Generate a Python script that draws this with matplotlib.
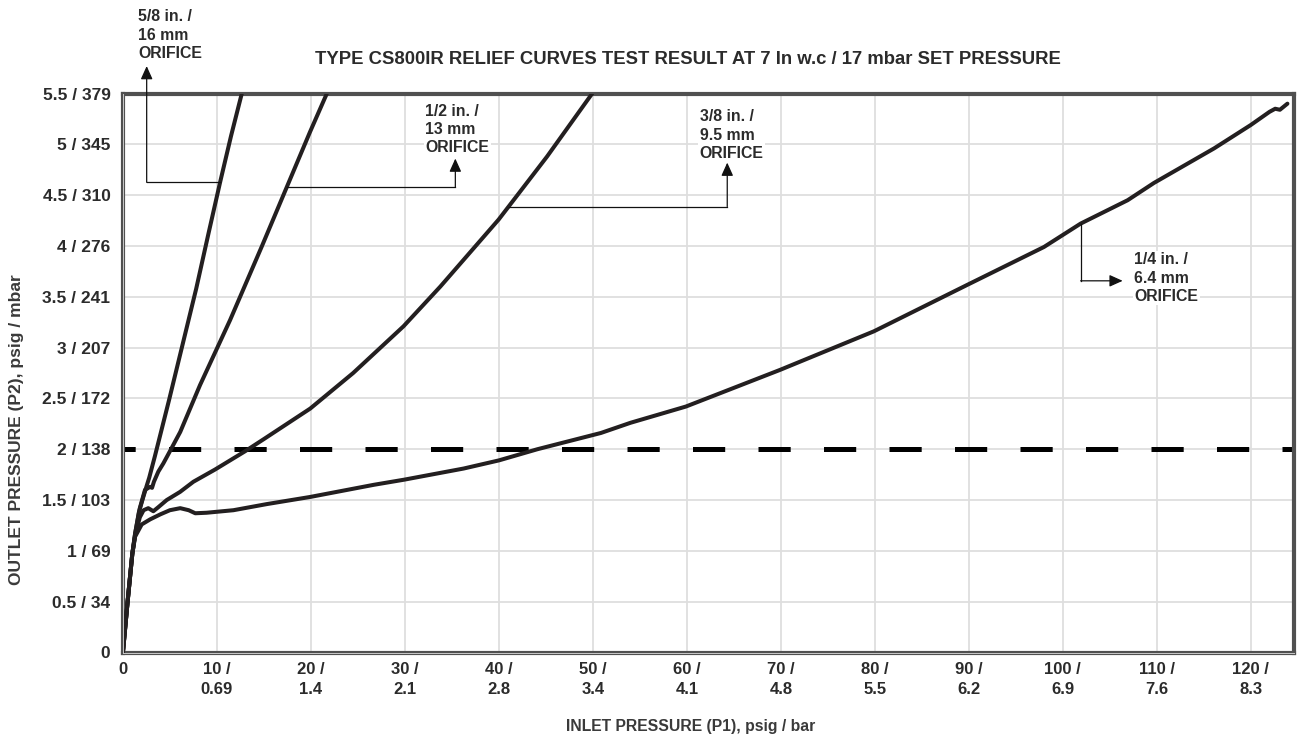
import numpy as np
import matplotlib
matplotlib.use("Agg")
import matplotlib.pyplot as plt

plt.rcParams['font.family'] = ['Liberation Sans', 'DejaVu Sans']
plt.rcParams['font.weight'] = 'bold'

# --- data (x = inlet psig, y = outlet psig) ---
x_58 = [0, 0.5, 1.0, 1.3, 1.7, 2.17, 2.53, 2.8, 3.4, 4.9, 6.35, 7.8, 9.1, 10.35, 11.5, 12.65]
y_58 = [0, 0.50, 0.97, 1.17, 1.38, 1.53, 1.64, 1.72, 1.93, 2.48, 3.03, 3.58, 4.12, 4.63, 5.08, 5.50]

x_12 = [0, 0.5, 1.0, 1.3, 1.8, 2.35, 2.9, 3.1, 3.3, 3.77, 4.3, 5.0, 6.1, 8.2, 11.4, 14.8, 17.44, 19.9, 21.7]
y_12 = [0, 0.50, 0.97, 1.17, 1.42, 1.60, 1.63, 1.62, 1.68, 1.78, 1.86, 1.98, 2.17, 2.63, 3.27, 4.00, 4.58, 5.12, 5.50]

x_38 = [0, 0.5, 1.0, 1.3, 1.8, 2.2, 2.7, 3.24, 3.77, 4.66, 6.08, 7.5, 9.8, 11.4, 13.0, 15.0, 19.93, 24.5,
        29.86, 33.77, 39.98, 45.13, 49.93]
y_38 = [0, 0.50, 0.97, 1.15, 1.33, 1.40, 1.42, 1.39, 1.43, 1.50, 1.58, 1.68, 1.80, 1.89, 1.98, 2.10, 2.40, 2.75,
        3.21, 3.60, 4.26, 4.88, 5.50]

x_14 = [0, 0.5, 1.0, 1.3, 2.0, 2.9, 4.0, 5.0, 6.1, 7.0, 7.7, 8.9, 11.76, 15.3, 19.9, 26.7, 29.9, 36.25, 40.0,
        44.1, 50.86, 54.0, 59.9, 69.9, 79.9, 89.9, 98.0, 101.9, 106.9, 109.7, 116.1, 120.0, 122.0, 122.6,
        123.1, 123.9]
y_14 = [0, 0.50, 0.97, 1.14, 1.26, 1.31, 1.36, 1.40, 1.42, 1.40, 1.37, 1.375, 1.40, 1.46, 1.53, 1.65, 1.70,
        1.81, 1.89, 2.00, 2.16, 2.26, 2.42, 2.78, 3.16, 3.62, 3.99, 4.22, 4.45, 4.62, 4.96, 5.19, 5.32, 5.35,
        5.34, 5.40]

set_pressure = 2.0

x_ticks = np.arange(0, 121, 10)
x_labels = ["0", "10 /\n0.69", "20 /\n1.4", "30 /\n2.1", "40 /\n2.8", "50 /\n3.4", "60 /\n4.1",
            "70 /\n4.8", "80 /\n5.5", "90 /\n6.2", "100 /\n6.9", "110 /\n7.6", "120 /\n8.3"]
y_ticks = np.arange(0, 5.51, 0.5)
y_labels = ["0", "0.5 / 34", "1 / 69", "1.5 / 103", "2 / 138", "2.5 / 172", "3 / 207", "3.5 / 241",
            "4 / 276", "4.5 / 310", "5 / 345", "5.5 / 379"]

txt_c = '#2b2b2b'
W, H = 1299, 740
fig = plt.figure(figsize=(W / 100, H / 100), dpi=100)
ax = fig.add_axes([122.9 / W, 1 - 652.5 / H, (1294 - 122.9) / W, (652.5 - 93.5) / H])

ax.set_xlim(0, 124.6)
ax.set_ylim(0, 5.5)
ax.set_xticks(x_ticks)
ax.set_xticklabels(x_labels, fontsize=12, fontweight='bold', color=txt_c, linespacing=1.4)
ax.set_yticks(y_ticks)
ax.set_yticklabels(y_labels, fontsize=12.5, fontweight='bold', color=txt_c)
ax.tick_params(axis='both', length=0)
ax.tick_params(axis='x', pad=7)
ax.tick_params(axis='y', pad=9)
ax.grid(True, color='#dedede', lw=1.3, zorder=0)
ax.set_axisbelow(True)

for s in ax.spines.values():
    s.set_color('#505050')
    s.set_linewidth(3)
# light inner line for the double border look on left / bottom
ax.plot([0, 0], [0, 1], transform=ax.transAxes, color='#c8c8c8', lw=0.7, clip_on=False, zorder=6)
ax.plot([0, 1], [0, 0], transform=ax.transAxes, color='#c8c8c8', lw=0.7, clip_on=False, zorder=6)

# set pressure line
ax.axhline(set_pressure, color='black', lw=3.6, zorder=2, linestyle=(4.0, (6.44, 6.66)),
           dash_capstyle='butt')

curve_c = '#231f20'
for xs, ys in [(x_58, y_58), (x_12, y_12), (x_38, y_38), (x_14, y_14)]:
    ax.plot(xs, ys, color=curve_c, lw=2.9, solid_joinstyle='round', solid_capstyle='round', zorder=3)

fs_ann = 11.4
arrow_kw = dict(arrowstyle='-|>,head_length=0.4,head_width=0.18', color='#111111', lw=0.9,
                shrinkA=0, shrinkB=0, mutation_scale=20)


def leader(xs, ys, x_on, pts, tip):
    # pts: corner points after the anchor on the curve; tip: arrow end
    y_on = np.interp(x_on, xs, ys)
    px = [x_on] + [p[0] for p in pts]
    py = [y_on] + [p[1] for p in pts]
    ax.plot(px, py, color='#111111', lw=0.9, clip_on=False, zorder=4)
    ax.annotate('', xy=tip, xytext=pts[-1], arrowprops=arrow_kw, annotation_clip=False, zorder=4)
    return y_on


# 5/8 in
leader(x_58, y_58, 10.34, [(2.53, np.interp(10.34, x_58, y_58))], (2.53, 5.77))
ax.text(1.6, 5.82, "5/8 in. /\n16 mm\nORIFICE", fontsize=fs_ann, fontweight='bold', ha='left', va='bottom',
        linespacing=1.28, color=txt_c, clip_on=False)

# 1/2 in
y_b = np.interp(17.44, x_12, y_12)
leader(x_12, y_12, 17.44, [(35.37, y_b)], (35.37, 4.86))
ax.text(32.17, 4.89, "1/2 in. /\n13 mm\nORIFICE", fontsize=fs_ann, fontweight='bold', ha='left', va='bottom',
        linespacing=1.28, color=txt_c, bbox=dict(facecolor='white', edgecolor='none', pad=1), zorder=5)

# 3/8 in
y_c = np.interp(41.04, x_38, y_38)
leader(x_38, y_38, 41.04, [(64.3, y_c)], (64.3, 4.82))
ax.text(61.35, 4.835, "3/8 in. /\n9.5 mm\nORIFICE", fontsize=fs_ann, fontweight='bold', ha='left', va='bottom',
        linespacing=1.28, color=txt_c, bbox=dict(facecolor='white', edgecolor='none', pad=1), zorder=5)

# 1/4 in
leader(x_14, y_14, 101.9, [(101.9, 3.657)], (106.37, 3.657))
ax.text(107.6, 3.43, "1/4 in. /\n6.4 mm\nORIFICE", fontsize=fs_ann, fontweight='bold', ha='left', va='bottom',
        linespacing=1.28, color=txt_c, bbox=dict(facecolor='white', edgecolor='none', pad=1), zorder=5)

fig.text(688 / W, 1 - 60 / H, "TYPE CS800IR RELIEF CURVES TEST RESULT AT 7 In w.c / 17 mbar SET PRESSURE",
         fontsize=13.3, fontweight='bold', ha='center', va='center', color=txt_c)
fig.text(691 / W, 1 - 726 / H, "INLET PRESSURE (P1), psig / bar", fontsize=11.3, fontweight='bold',
         ha='center', va='center', color='#3a3a3a')
fig.text(17 / W, 1 - 430 / H, "OUTLET PRESSURE (P2), psig / mbar", fontsize=12.5, fontweight='bold',
         ha='center', va='center', rotation=90, color='#3a3a3a')

fig.savefig("out.png", dpi=100)
